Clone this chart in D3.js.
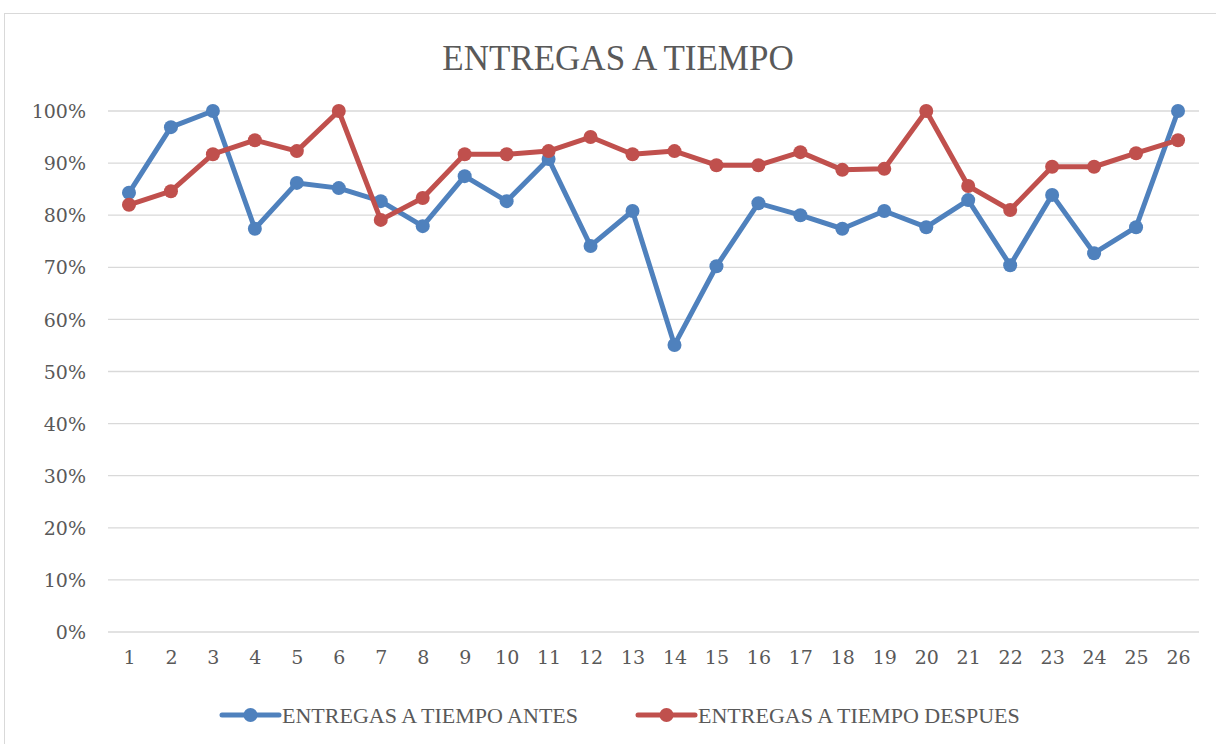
<!DOCTYPE html>
<html><head><meta charset="utf-8">
<script src="https://d3js.org/d3.v7.min.js"></script>
<style>body{margin:0;background:#fff}svg{display:block}</style>
</head><body>
<script>
const categories = ["1","2","3","4","5","6","7","8","9","10","11","12","13","14","15","16","17","18","19","20","21","22","23","24","25","26"];
const antes = [84.3,96.9,100,77.4,86.2,85.2,82.7,77.9,87.5,82.7,90.8,74.1,80.8,55.1,70.2,82.3,80.0,77.4,80.8,77.7,82.9,70.4,83.9,72.7,77.7,100];
const despues = [82.0,84.6,91.7,94.4,92.3,100,79.1,83.3,91.7,91.7,92.3,95.0,91.7,92.3,89.6,89.6,92.1,88.7,88.9,100,85.6,81.0,89.3,89.3,91.9,94.4];
const yTicks = [0,10,20,30,40,50,60,70,80,90,100];
const seriesNames = ["ENTREGAS A TIEMPO ANTES","ENTREGAS A TIEMPO DESPUES"];
const title = "ENTREGAS A TIEMPO";

const W=1216,H=744;
const font = "'DejaVu Serif','Liberation Serif',serif";
const tfont = "'Liberation Serif','DejaVu Serif',serif";
const svg=d3.select("body").append("svg").attr("width",W).attr("height",H);
svg.append("rect").attr("x",4.5).attr("y",13.5).attr("width",1230).attr("height",760).attr("fill","#fff").attr("stroke","#d9d9d9");

const x=d3.scalePoint().domain(categories).range([108,1199]).padding(0.5);
const y=d3.scaleLinear().domain([0,100]).range([632,111]);

svg.append("text").attr("x",618).attr("y",70).attr("text-anchor","middle").attr("font-family",tfont).attr("font-size",35).attr("fill","#595959").text(title);

const grid=svg.append("g");
grid.selectAll("line").data(yTicks).join("line").attr("x1",108).attr("x2",1199).attr("y1",d=>y(d)).attr("y2",d=>y(d)).attr("stroke","#d9d9d9").attr("stroke-width",1.3);

const yAxis=d3.axisLeft(y).tickValues(yTicks).tickFormat(d=>d+"%").tickSize(0).tickPadding(0);
const ga=svg.append("g").attr("transform","translate(86,0)").call(yAxis);
ga.attr("font-family",null).attr("font-size",null);
ga.select(".domain").remove();
ga.selectAll("text").attr("font-family",font).attr("font-size",19).attr("fill","#595959").attr("dy","0.35em");

const xAxis=d3.axisBottom(x).tickSize(0).tickPadding(0);
const gx=svg.append("g").attr("transform","translate(0,650)").call(xAxis);
gx.attr("font-family",null).attr("font-size",null);
gx.select(".domain").remove();
gx.selectAll("text").attr("font-family",font).attr("font-size",19).attr("fill","#595959").attr("dy","0.75em");

const colors=["#4F81BD","#C0504D"];
[antes,despues].forEach((vals,i)=>{
  const data=vals.map((v,j)=>({c:categories[j],v}));
  const line=d3.line().x(d=>x(d.c)).y(d=>y(d.v));
  svg.append("path").datum(data).attr("d",line).attr("fill","none").attr("stroke",colors[i]).attr("stroke-width",5).attr("stroke-linejoin","round").attr("stroke-linecap","round");
  svg.append("g").selectAll("circle").data(data).join("circle").attr("cx",d=>x(d.c)).attr("cy",d=>y(d.v)).attr("r",7).attr("fill",colors[i]);
});

const legX=[222,638];
seriesNames.forEach((n,i)=>{
  const g=svg.append("g").attr("transform",`translate(${legX[i]},715)`);
  g.append("line").attr("x1",0).attr("x2",57).attr("stroke",colors[i]).attr("stroke-width",5).attr("stroke-linecap","round");
  g.append("circle").attr("cx",28.5).attr("r",7).attr("fill",colors[i]);
  g.append("text").attr("x",60).attr("dy","0.35em").attr("font-family",tfont).attr("font-size",22).attr("fill","#595959").text(n);
});
</script>
</body></html>
